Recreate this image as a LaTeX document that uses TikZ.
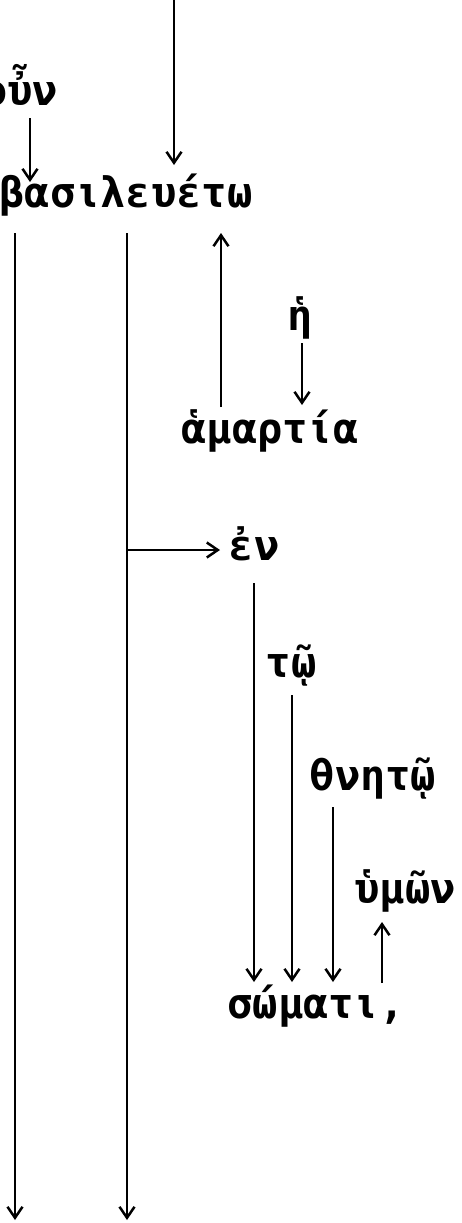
\documentclass[tikz,border=0pt]{standalone}
\usepackage{fontspec}
\newfontfamily\gkfont{DejaVu Sans Mono}
\usetikzlibrary{arrows.meta,calc}
\begin{document}
\begin{tikzpicture}[x=1pt,y=-1pt,
  wd/.style={font={\gkfont\bfseries\fontsize{42}{50}\selectfont}, inner sep=0pt, anchor=base},
  arr/.style={line width=2.5pt, -{Straight Barb[length=11pt,width=15pt,line width=2.5pt]}}]
\useasboundingbox (0,0) rectangle (461,1223);
\node[wd] (oun) at (20,105) {οὖν};
\node[wd] (bas) at (126,207) {βασιλευέτω};
\node[wd] (he) at (300,330) {ἡ};
\node[wd] (ham) at (270,443) {ἁμαρτία};
\node[wd] (en) at (254,560) {ἐν};
\node[wd] (tw) at (291,677) {τῷ};
\node[wd] (thn) at (373,790) {θνητῷ};
\node[wd] (hym) at (405,903) {ὑμῶν};
\node[wd] (som) at (316,1018) {σώματι,};
\coordinate (top) at (174,0);
\coordinate (endL) at (15,1220);
\coordinate (endR) at (127,1220);
\coordinate (br) at (127,550);
\draw[arr] (top) -- ($(bas.base)+(48,-42)$);
\draw[arr] ($(oun.base)+(10,13)$) -- ($(bas.base)+(-96,-25)$);
\draw[arr] ($(bas.base)+(-111,26)$) -- (endL);
\draw[arr] ($(bas.base)+(1,26)$) -- (endR);
\draw[arr] ($(ham.base)+(-49,-36)$) -- ($(bas.base)+(95,26)$);
\draw[arr] ($(he.base)+(2,13)$) -- ($(ham.base)+(32,-38)$);
\draw[arr] (br) -- ($(en.base)+(-34,-10)$);
\draw[arr] ($(en.base)+(0,23)$) -- ($(som.base)+(-62,-36)$);
\draw[arr] ($(tw.base)+(1,18)$) -- ($(som.base)+(-24,-36)$);
\draw[arr] ($(thn.base)+(-40,17)$) -- ($(som.base)+(17,-36)$);
\draw[arr] ($(som.base)+(66,-35)$) -- ($(hym.base)+(-23,19)$);
\end{tikzpicture}
\end{document}
